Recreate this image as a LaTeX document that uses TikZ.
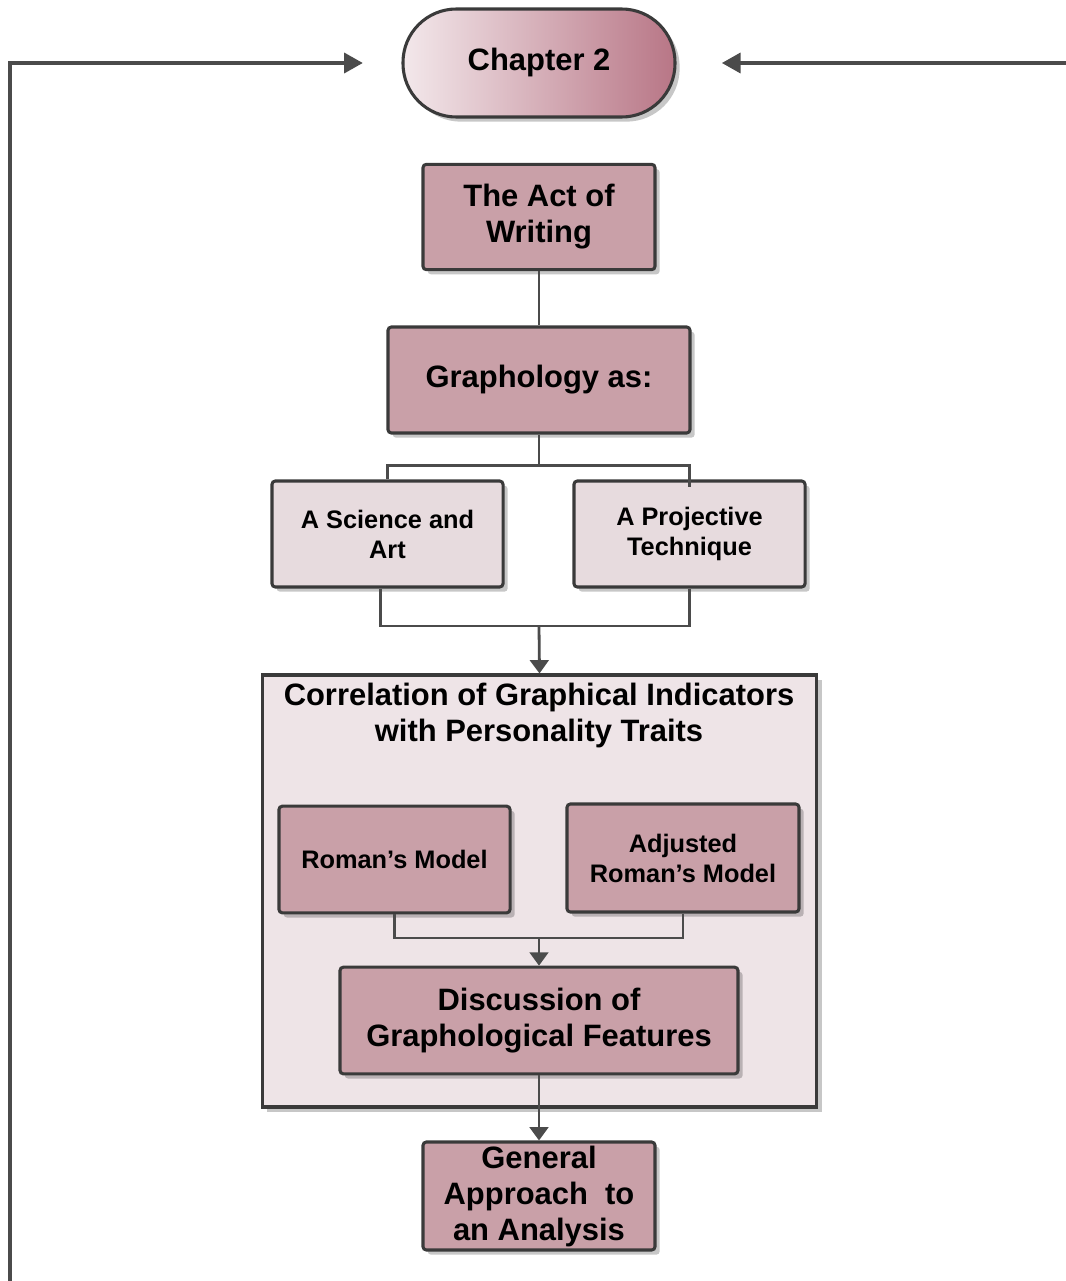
\documentclass[tikz,border=0pt]{standalone}
\usepackage{fontspec}
\setmainfont{Liberation Sans}
\usetikzlibrary{arrows.meta,shadows,positioning}
\definecolor{mauve}{RGB}{201,160,168}
\definecolor{lightmauve}{RGB}{231,219,222}
\definecolor{contfill}{RGB}{238,228,231}
\definecolor{chapL}{RGB}{243,232,235}
\definecolor{chapR}{RGB}{184,118,134}
\definecolor{edge}{RGB}{58,58,58}
\definecolor{wire}{RGB}{75,75,75}
\tikzset{
  shad/.style={drop shadow={shadow xshift=3.5pt,shadow yshift=-3.5pt,fill=black,opacity=0.22}},
  darkbox/.style={draw=edge,line width=2.3pt,fill=mauve,rounded corners=2.5pt,shad,
     align=center,inner sep=0pt,font=\bfseries\fontsize{23.2pt}{27pt}\selectfont},
  lightbox/.style={draw=edge,line width=2.3pt,fill=lightmauve,rounded corners=2.5pt,shad,
     align=center,inner sep=0pt,font=\bfseries\fontsize{19pt}{22.5pt}\selectfont},
  smalldark/.style={darkbox,font=\bfseries\fontsize{19pt}{22.5pt}\selectfont},
  wirel/.style={draw=wire,line width=2.1pt},
  arr/.style={wirel,-{Triangle[length=10pt,width=14pt]}},
  looparr/.style={draw=wire,line width=2.6pt,-{Triangle[length=14pt,width=15pt]}}
}
\begin{document}
\begin{tikzpicture}[x=0.75pt,y=-0.75pt]
\useasboundingbox (0,0) rectangle (1065,1281);
% container
\node[draw=edge,line width=2.3pt,fill=contfill,shad,minimum width=416pt,minimum height=324pt,inner sep=0pt] (cont) at (539.5,891) {};
\node[align=center,inner sep=0pt,font=\bfseries\fontsize{23.2pt}{27pt}\selectfont] (ctitle) at (539,715) {Correlation of Graphical Indicators\\with Personality Traits};
% chapter
\node[draw=edge,line width=2.3pt,rounded corners=40pt,left color=chapL,right color=chapR,shad,
  minimum width=204pt,minimum height=81pt,inner sep=0pt,font=\bfseries\fontsize{23.2pt}{27pt}\selectfont] (chap) at (539,63) {Chapter 2};
\node[darkbox,minimum width=174pt,minimum height=79pt] (act) at (539,217) {The Act of\\Writing};
\node[darkbox,minimum width=226.5pt,minimum height=79.5pt] (graph) at (539,380) {Graphology as:};
\node[lightbox,minimum width=173.3pt,minimum height=79.5pt] (sci) at (387.5,534) {A Science and\\Art};
\node[lightbox,minimum width=173.3pt,minimum height=79.5pt] (proj) at (689.5,534) {A Projective\\Technique};
\node[smalldark,minimum width=173.3pt,minimum height=80pt] (rom) at (394.5,859.5) {Roman’s Model};
\node[smalldark,minimum width=174pt,minimum height=81pt] (adj) at (683,858) {Adjusted\\Roman’s Model};
\node[darkbox,minimum width=298.5pt,minimum height=80pt] (disc) at (539,1020.5) {Discussion of\\Graphological Features};
\node[darkbox,minimum width=174pt,minimum height=81pt] (gen) at (539,1196) {General\\Approach\ \ to\\an Analysis};
% connectors
\draw[wirel] (act.south) -- (graph.north);
\draw[wirel] (graph.south) -- ++(0,31) coordinate (gsplit);
\draw[wirel] (gsplit) -| (sci.north);
\draw[wirel] (gsplit) -| ([yshift=-6pt]proj.north);
\draw[wirel] ([xshift=-5.5pt]sci.south) |- (539,626) coordinate (smerge);
\draw[wirel] (proj.south) |- (smerge);
\draw[arr] (smerge) -- (cont.north);
\draw[wirel] (rom.south) |- (539,938) coordinate (rmerge);
\draw[wirel] (adj.south) |- (rmerge);
\draw[arr] (rmerge) -- (disc.north);
\draw[arr] (disc.south) -- (gen.north);
% loop arrows
\coordinate (lstart) at (10,1290);
\coordinate (rstart) at (1070,63);
\draw[looparr,shorten >=29pt] (lstart) |- (chap.west);
\draw[looparr,shorten >=34pt] (rstart) -- (chap.east);
\end{tikzpicture}
\end{document}
